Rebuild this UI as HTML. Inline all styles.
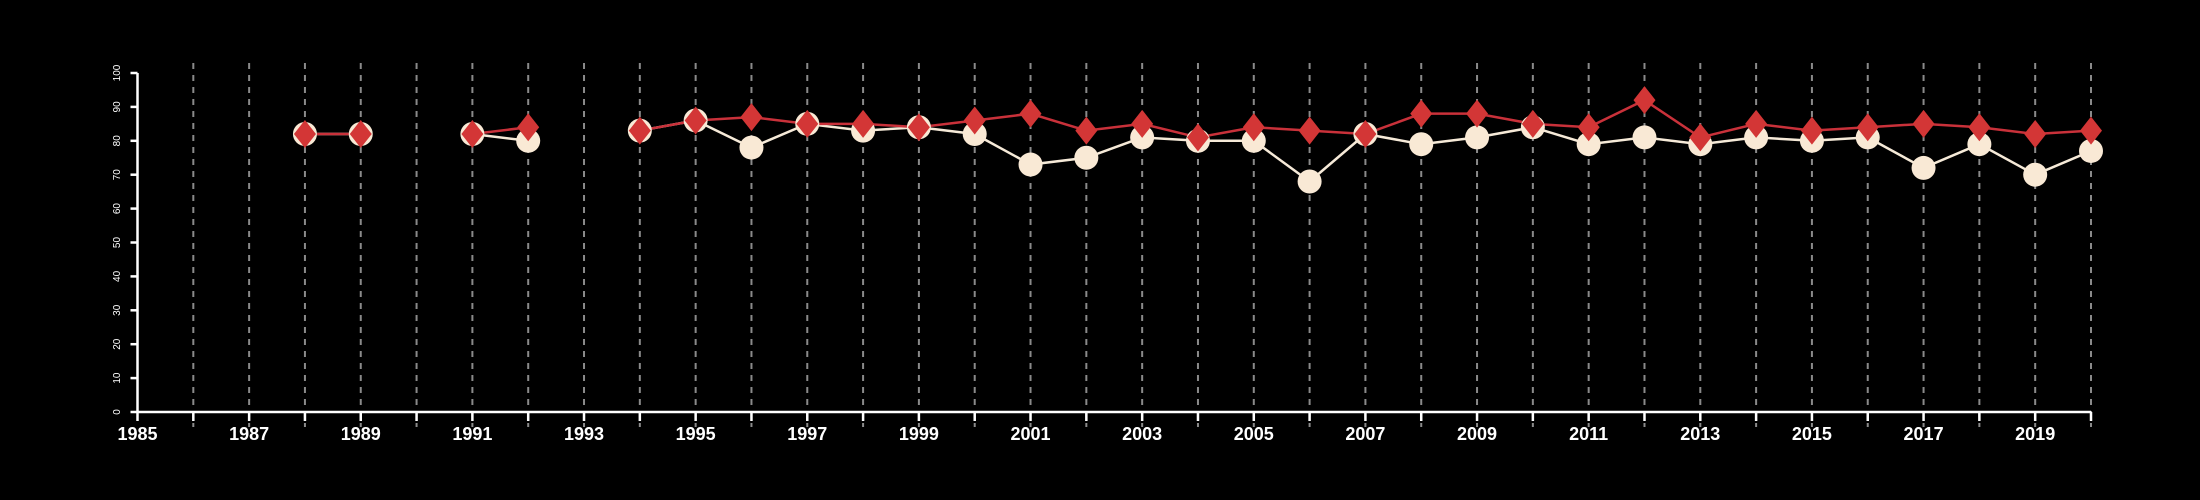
<!DOCTYPE html>
<html><head><meta charset="utf-8"><style>
html,body{margin:0;padding:0;background:#000;}
svg{display:block;}
text{font-family:"Liberation Sans",sans-serif;fill:#fff;}
</style></head><body>
<svg id="chart" width="2200" height="500" viewBox="0 0 2200 500" xmlns="http://www.w3.org/2000/svg">
<rect width="2200" height="500" fill="#000"/>
<g id="grid"></g>
<g id="axes"></g>
<g id="series"></g>
</svg>
<script>
const years = [1988,1989,1990,1991,1992,1993,1994,1995,1996,1997,1998,1999,2000,2001,2002,2003,2004,2005,2006,2007,2008,2009,2010,2011,2012,2013,2014,2015,2016,2017,2018,2019,2020];
const whiteSeries = [82,82,null,82,80,null,83,86,78,85,83,84,82,73,75,81,80,80,68,82,79,81,84,79,81,79,81,80,81,72,79,70,77];
const redSeries = [82,82,null,82,84,null,83,86,87,85,85,84,86,88,83,85,81,84,83,82,88,88,85,84,92,81,85,83,84,85,84,82,83];
const yTicks = [0,10,20,30,40,50,60,70,80,90,100];
const xLabels = [1985,1987,1989,1991,1993,1995,1997,1999,2001,2003,2005,2007,2009,2011,2013,2015,2017,2019];

const NS="http://www.w3.org/2000/svg";
const X0=137.5,X1=2091,Y0=412,Y1=73;
function xs(v){return X0+(v-1985)/(2020-1985)*(X1-X0);}
function ys(v){return Y0-(v/100)*(Y0-Y1);}
function mk(tag,attrs,parent){const e=document.createElementNS(NS,tag);for(const k in attrs)e.setAttribute(k,attrs[k]);parent.appendChild(e);return e;}
const grid=document.getElementById('grid'),axes=document.getElementById('axes'),ser=document.getElementById('series');

for(let y=1986;y<=2020;y++){
  const l=mk('line',{x1:xs(y),x2:xs(y),y1:63,y2:427,stroke:'#8a8a8a','stroke-width':2,'stroke-dasharray':'6,6'},grid);
  
  
}
let a=mk('line',{x1:X0,x2:X1,y1:Y0,y2:Y0,stroke:'#fff','stroke-width':2.5},axes);


a=mk('line',{x1:X0,x2:X0,y1:Y0,y2:Y1,stroke:'#fff','stroke-width':2.5},axes);


for(let y=1985;y<=2020;y++){
  const t=mk('line',{x1:xs(y),x2:xs(y),y1:Y0,y2:Y0+9,stroke:'#fff','stroke-width':2.5},axes);
  
  
}
xLabels.forEach(v=>{
  const t=mk('text',{x:xs(v),y:440,'text-anchor':'middle','font-size':18,'font-weight':'bold'},axes);
  t.textContent=v;
  
  
});
yTicks.forEach(v=>{
  const t=mk('line',{x1:X0-7,x2:X0,y1:ys(v),y2:ys(v),stroke:'#fff','stroke-width':2.5},axes);
  
  
  const l=mk('text',{x:0,y:0,'text-anchor':'middle','font-size':10,transform:'translate(120,'+ys(v)+') rotate(-90)'},axes);
  l.textContent=v;
  
  
});
function drawLine(vals,color,name){
  let seg=[];
  const flush=()=>{if(seg.length>1){const p=mk('polyline',{points:seg.join(' '),fill:'none',stroke:color,'stroke-width':2.5},ser);
    
    }seg=[];};
  vals.forEach((v,i)=>{if(v===null){flush();}else seg.push(xs(years[i])+','+ys(v));});
  flush();
}
drawLine(whiteSeries,'#f6ead8','white-series');
drawLine(redSeries,'#c9313a','red-series');
whiteSeries.forEach((v,i)=>{if(v===null)return;
  const c=mk('circle',{cx:xs(years[i]),cy:ys(v),r:12,fill:'#f9e9d5'},ser);
  
  
});
redSeries.forEach((v,i)=>{if(v===null)return;
  const x=xs(years[i]),y=ys(v);
  const d=mk('polygon',{points:`${x},${y-14} ${x+11},${y} ${x},${y+14} ${x-11},${y}`,fill:'#d33636'},ser);
  
  
});
</script>
</body></html>
